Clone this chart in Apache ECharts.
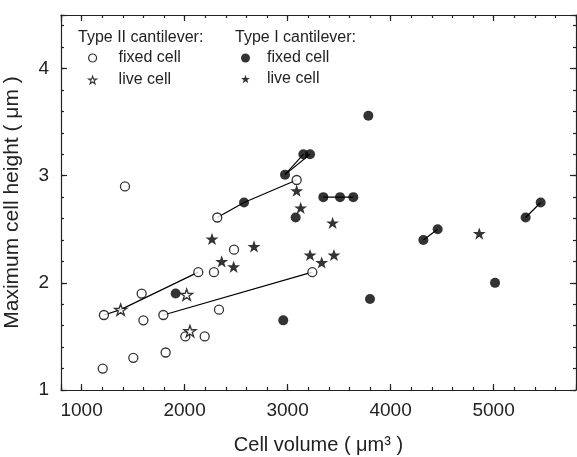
<!DOCTYPE html>
<html>
<head>
<meta charset="utf-8">
<script src="https://cdn.jsdelivr.net/npm/echarts@6/dist/echarts.min.js"></script>
<style>html,body{margin:0;padding:0;background:#fff}#c{width:577px;height:457px}</style>
</head>
<body>
<div id="c"></div>
<script>
// ---- data (x: cell volume µm³, y: max cell height µm) ----
const typeIIFixed = [
  [1421,2.90],[2317,2.61],[2480,2.31],[2133,2.10],[2285,2.10],[1583,1.90],
  [1217,1.70],[1600,1.65],[1794,1.70],[2334,1.75],[2007,1.50],[2195,1.50],
  [1816,1.35],[1502,1.30],[1205,1.20],[3088,2.96],[3240,2.10]
];
const typeIILive = [[1379,1.75],[2020,1.89],[2052,1.55]];
const typeIFixed = [
  [2577,2.75],[1913,1.90],[3784,3.56],[3153,3.20],[3218,3.20],[2975,3.01],
  [3078,2.61],[3347,2.80],[3509,2.80],[3638,2.80],[3800,1.85],[2958,1.65],
  [4318,2.40],[4457,2.50],[5014,2.00],[5311,2.61],[5457,2.75]
];
const typeILive = [
  [2266,2.41],[2674,2.34],[2360,2.20],[2476,2.15],[3088,2.86],[3127,2.70],
  [3437,2.56],[3218,2.26],[3331,2.19],[3450,2.26],[4861,2.46]
];
// connected measurements
const link1 = [[1217,1.70],[1379,1.75],[2133,2.10]];
const link2 = [[1794,1.70],[3240,2.10]];
const link3 = [[2317,2.61],[2577,2.75],[3088,2.96]];
const link4 = [[2975,3.01],[3153,3.20]];
const link5 = [[2975,3.01],[3218,3.20]];
const link6 = [[3347,2.80],[3509,2.80],[3638,2.80]];
const link7 = [[4318,2.40],[4457,2.50]];
const link8 = [[5311,2.61],[5457,2.75]];
const links = [link1,link2,link3,link4,link5,link6,link7,link8];

const xTickLabels = ['1000','2000','3000','4000','5000'];
const yTickLabels = ['1','2','3','4'];

const STAR = 'path://M50,2 L61.8,36.2 L97.6,36.2 L68.6,57.4 L79.6,91.6 L50,70.4 L20.4,91.6 L31.4,57.4 L2.4,36.2 L38.2,36.2 Z';
const FONT = 'Liberation Sans';
const AX = '#222';
const INK = '#000';

const chart = echarts.init(document.getElementById('c'), null, {renderer:'canvas'});

function xAx(pos, major, labels){
  return {
    type:'value', position:pos, min:800, max:5800,
    splitNumber: major ? 5 : undefined, interval: major ? undefined : 200,
    axisLine:{show:major, onZero:false, lineStyle:{color:AX, width:1.2}},
    axisTick:{show:true, inside:true, length: major?6:3, lineStyle:{color:AX, width:1.2}},
    axisLabel:{show:labels, fontFamily:FONT, fontSize:19, color:'#222', margin:11,
      formatter: v => xTickLabels.indexOf(String(v))>=0 ? String(v) : ''},
    splitLine:{show:false},
    name: labels ? 'Cell volume ( μm³ )' : '', nameLocation:'middle', nameGap:45,
    nameTextStyle:{fontFamily:FONT, fontSize:20, color:'#222'}
  };
}
function yAx(pos, major, labels){
  return {
    type:'value', position:pos, min:1, max:4.5,
    interval: major ? 1 : 0.2,
    axisLine:{show:major, onZero:false, lineStyle:{color:AX, width:1.2}},
    axisTick:{show:true, inside:true, length: major?6:3, lineStyle:{color:AX, width:1.2}},
    axisLabel:{show:labels, fontFamily:FONT, fontSize:19, color:'#222', margin:12,
      formatter: v => yTickLabels.indexOf(String(v))>=0 ? String(v) : ''},
    splitLine:{show:false},
    name: labels ? 'Maximum cell height ( μm )' : '', nameLocation:'middle', nameGap:38,
    nameTextStyle:{fontFamily:FONT, fontSize:21, color:'#222'}
  };
}

const series = [];
links.forEach(l => series.push({
  type:'line', data:l, xAxisIndex:0, yAxisIndex:0, symbol:'none', silent:true, z:1,
  lineStyle:{color:INK, width:1.2}
}));
series.push({name:'II fixed', type:'scatter', data:typeIIFixed, symbol:'circle', symbolSize:9, z:3,
  itemStyle:{color:'#fff', borderColor:INK, borderWidth:1.3}});
series.push({name:'II live', type:'scatter', data:typeIILive, symbol:STAR, symbolSize:12, symbolKeepAspect:true, z:3,
  itemStyle:{color:'#fff', borderColor:INK, borderWidth:1.3}});
series.push({name:'I fixed', type:'scatter', data:typeIFixed, symbol:'circle', symbolSize:10, z:3,
  itemStyle:{color:INK}});
series.push({name:'I live', type:'scatter', data:typeILive, symbol:STAR, symbolSize:13, symbolKeepAspect:true, z:3,
  itemStyle:{color:INK}});

const legendText = n => n.indexOf('fixed')>=0 ? 'fixed cell' : 'live cell';

chart.setOption({
  backgroundColor:'#fff',
  animation:false,
  title:[
    {text:'Type II cantilever:', left:78, top:30, padding:0, textStyle:{fontFamily:FONT, fontSize:16, fontWeight:'normal', color:'#222'}},
    {text:'Type I cantilever:', left:235, top:30, padding:0, textStyle:{fontFamily:FONT, fontSize:16, fontWeight:'normal', color:'#222'}}
  ],
  legend:[
    {data:[
      {name:'II fixed', icon:'circle', itemStyle:{color:'#fff', borderColor:INK, borderWidth:1.2}},
      {name:'II live', icon:STAR, itemStyle:{color:'#fff', borderColor:INK, borderWidth:1.1}}
     ], orient:'vertical', left:88, top:50, padding:0, itemWidth:8, itemHeight:8, itemGap:6,
     selectedMode:false, formatter:legendText,
     textStyle:{fontFamily:FONT, fontSize:16, color:'#222', padding:[0,0,0,17]}},
    {data:[
      {name:'I fixed', icon:'circle', itemStyle:{color:INK, borderWidth:0}},
      {name:'I live', icon:STAR, itemStyle:{color:INK, borderWidth:0}}
     ], orient:'vertical', left:241, top:50, padding:0, itemWidth:9, itemHeight:9, itemGap:5,
     selectedMode:false, formatter:legendText,
     textStyle:{fontFamily:FONT, fontSize:16, color:'#222', padding:[0,0,0,12]}}
  ],
  grid:{left:61, right:1, top:15, bottom:67, containLabel:false, outerBoundsMode:'none'},
  xAxis:[xAx('bottom',true,true), xAx('bottom',false,false), xAx('top',true,false), xAx('top',false,false)],
  yAxis:[yAx('left',true,true), yAx('left',false,false), yAx('right',true,false), yAx('right',false,false)],
  series:series
});
</script>
</body>
</html>
